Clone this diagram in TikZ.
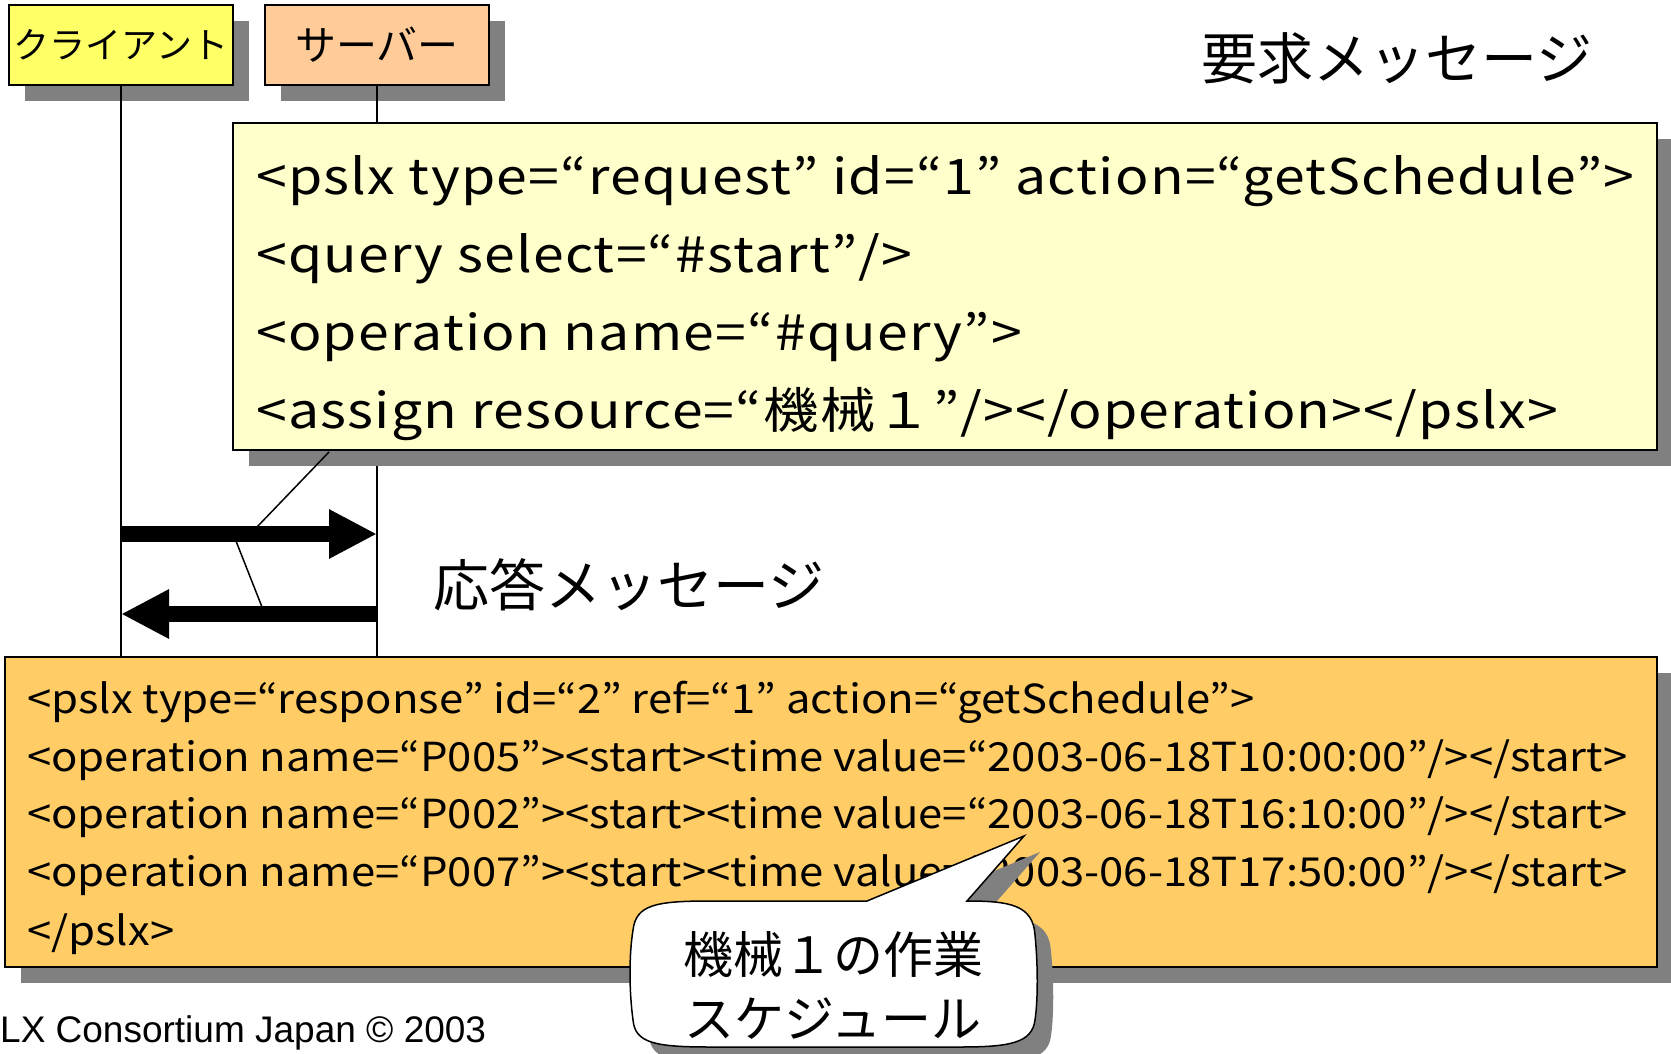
\documentclass[tikz,border=0pt]{standalone}
\usepackage{fontspec}
\setmainfont{Noto Sans CJK JP}
\newfontfamily\reqfont[FakeStretch=1.13,LetterSpace=2.5]{Noto Sans CJK JP}
\newfontfamily\resfont[FakeStretch=1.09]{Noto Sans CJK JP}
\newfontfamily\footfont{Liberation Sans}
\usetikzlibrary{arrows.meta,shadows}

\definecolor{clientfill}{HTML}{FFFF66}
\definecolor{serverfill}{HTML}{FFCC99}
\definecolor{reqfill}{HTML}{FFFFCC}
\definecolor{resfill}{HTML}{FFCC66}
\definecolor{shadowgray}{HTML}{808080}

\tikzset{
  boxshadow/.style={general shadow={shadow xshift=16pt, shadow yshift=-16pt, fill=shadowgray}},
  rolebox/.style={draw=black, line width=1.5pt, inner sep=0pt, minimum width=224pt,
    minimum height=80pt, boxshadow, font=\fontsize{36}{40}\selectfont},
  msgbox/.style={draw=black, line width=1.5pt, inner sep=0pt, boxshadow},
  lifeline/.style={line width=1.5pt},
  pointer/.style={line width=1.5pt},
  msgarrow/.style={line width=16pt, -{Triangle[length=48pt,width=46pt]}},
  reqline/.style={anchor=base west, inner sep=0pt, font=\reqfont\fontsize{49}{60}\selectfont},
  resline/.style={anchor=base west, inner sep=0pt, font=\resfont\fontsize{40}{48}\selectfont},
  heading/.style={inner sep=0pt, font=\fontsize{56}{64}\selectfont},
}

\begin{document}
\begin{tikzpicture}[x=1pt,y=-1pt]
\useasboundingbox[fill=white] (0,0) rectangle (1671,1054);

% lifeline owners
\node[rolebox, fill=clientfill] (client) at (121,45) {クライアント};
\node[rolebox, fill=serverfill, font=\fontsize{41}{44}\selectfont] (server) at (377,45) {サーバー};

% centres and top edges of the two message boxes
\path (945,286.5) coordinate (reqc) (831,812) coordinate (resc);
\coordinate (reqtop) at (945,123);
\coordinate (restop) at (831,657);

% lifelines
\draw[lifeline] (client.south) -- (client.south |- restop);
\draw[lifeline] (server.south) -- (server.south |- restop);

% request message box
\node[msgbox, fill=reqfill, minimum width=1424pt, minimum height=327pt] (req) at (reqc) {};
\node[reqline] (rq1) at (256,194) {<pslx type=“request” id=“1” action=“getSchedule”>};
\node[reqline] (rq2) at (256,272) {<query select=“\#start”/>};
\node[reqline] (rq3) at (256,350) {<operation name=“\#query”>};
\node[reqline] (rq4) at (256,428) {<assign resource=“機械１”/></operation></pslx>};

% messages between the lifelines
\coordinate (cl1) at (client.south |- 0,534);
\coordinate (sv1) at (server.south |- 0,534);
\coordinate (cl2) at (client.south |- 0,614);
\coordinate (sv2) at (server.south |- 0,614);
\draw[msgarrow] (cl1) -- (sv1);
\draw[msgarrow] (sv2) -- (cl2);

% pointer lines from the request box
\coordinate (pa) at (329,452);
\coordinate (pb) at (257,527);
\coordinate (pc) at (236,541);
\coordinate (pd) at (262,607);
\draw[pointer] (pa) -- (pb);
\draw[pointer] (pc) -- (pd);

% headings
\node[heading] (reqhead) at (1397,58) {要求メッセージ};
\node[heading] (reshead) at (629,585) {応答メッセージ};

% response message box
\node[msgbox, fill=resfill, minimum width=1652pt, minimum height=310pt] (res) at (resc) {};
\node[resline] (rs1) at (27,713) {<pslx type=“response” id=“2” ref=“1” action=“getSchedule”>};
\node[resline] (rs2) at (27,771) {<operation name=“P005”><start><time value=“2003-06-18T10:00:00”/></start>};
\node[resline] (rs3) at (27,828) {<operation name=“P002”><start><time value=“2003-06-18T16:10:00”/></start>};
\node[resline] (rs4) at (27,886) {<operation name=“P007”><start><time value=“2003-06-18T17:50:00”/></start>};
\node[resline] (rs5) at (27,945) {</pslx>};

% speech bubble
\coordinate (tip) at (1024,836);
\filldraw[fill=white, draw=black, line width=1.5pt, boxshadow]
  (867,901) -- (tip) -- (967,901)
  .. controls (1010,901) and (1033,905) .. (1035,935)
  .. controls (1038,965) and (1038,1000) .. (1035,1020)
  .. controls (1032,1043) and (1010,1047) .. (960,1047)
  -- (710,1047)
  .. controls (655,1047) and (635,1043) .. (633,1020)
  .. controls (629,990) and (629,955) .. (633,930)
  .. controls (636,905) and (655,901) .. (710,901)
  -- cycle;
\node[inner sep=0pt, align=center, font=\fontsize{50}{64}\selectfont] (bubble) at (833,985) {機械１の作業\\スケジュール};

% footer
\node[anchor=west, inner sep=0pt, font=\footfont\fontsize{37}{40}\selectfont] (foot) at (0,1033) {LX Consortium Japan © 2003};
\end{tikzpicture}
\end{document}
